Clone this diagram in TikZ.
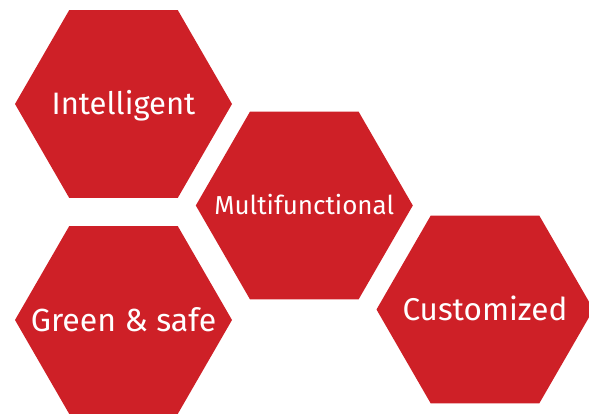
\documentclass[tikz,border=0pt]{standalone}
\usepackage{fontspec}
\setmainfont{Fira Sans}
\usetikzlibrary{shapes.geometric}
\definecolor{hexred}{RGB}{206,32,39}

\begin{document}
\begin{tikzpicture}[x=1pt,y=-1pt]

      \useasboundingbox (0,0) rectangle (589,415);

      \begin{scope}[every node/.style={regular polygon,regular polygon sides=6,
          minimum size=217pt,inner sep=0pt,outer sep=0pt,fill=hexred},
          every label/.style={text=white,text depth=0pt,inner sep=0pt,fill=none,
          regular polygon,minimum size=0pt}]
        \node[label={[font=\fontsize{31}{31}\selectfont,text height=21.4pt]center:Intelligent}] (intelligent) at (123.5,104) {};
        \node[label={[font=\fontsize{26}{26}\selectfont,text height=17.9pt]center:Multifunctional}] (multi) at (304.3,205.5) {};
        \node[label={[font=\fontsize{32}{32}\selectfont,text height=22pt]center:Green \& safe}] (green) at (123.5,320) {};
        \node[label={[font=\fontsize{31.5}{31.5}\selectfont,text height=21.7pt]center:Customized}] (custom) at (485,309.5) {};
      \end{scope}

    \end{tikzpicture}
\end{document}
